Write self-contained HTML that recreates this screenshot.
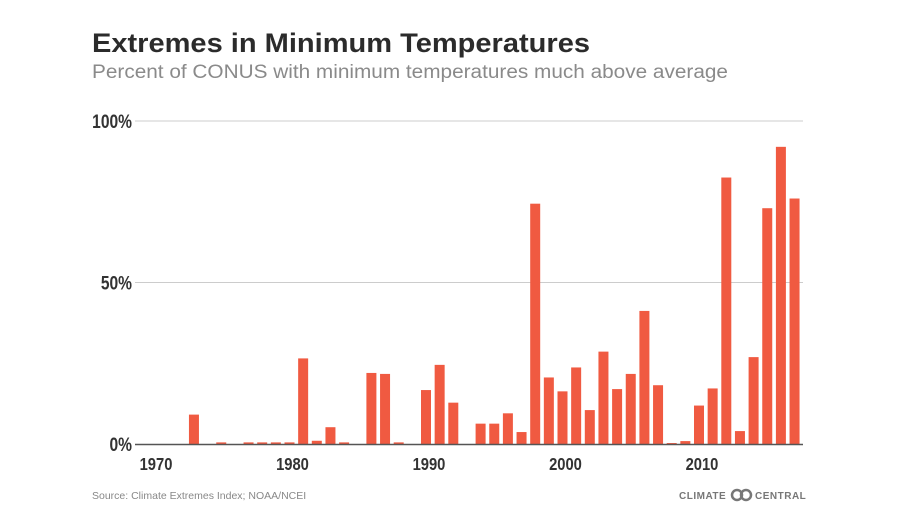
<!DOCTYPE html>
<html><head><meta charset="utf-8"><style>
body{margin:0;background:#fff;width:900px;height:525px;overflow:hidden;font-family:"Liberation Sans",sans-serif}
svg{display:block}
</style></head><body>
<svg width="900" height="525">
<text x="92" y="52" font-size="27" font-weight="bold" fill="#2b2b2b" textLength="498" lengthAdjust="spacingAndGlyphs">Extremes in Minimum Temperatures</text>
<text x="92" y="78" font-size="19" fill="#8a8a8a" textLength="636" lengthAdjust="spacingAndGlyphs">Percent of CONUS with minimum temperatures much above average</text>
<g id="grid"></g><g id="bars"></g><g id="axis"></g>
<text x="92" y="499" font-size="10.5" fill="#888">Source: Climate Extremes Index; NOAA/NCEI</text>
<g>
<text x="679" y="499" font-size="10" font-weight="bold" fill="#777" letter-spacing="0.5">CLIMATE</text>
<circle cx="737" cy="495" r="5" fill="none" stroke="#777" stroke-width="2.5"/>
<circle cx="746" cy="495" r="5" fill="none" stroke="#777" stroke-width="2.5"/>
<text x="755" y="499" font-size="10" font-weight="bold" fill="#777" letter-spacing="0.5">CENTRAL</text>
</g>
</svg>
<script>
const years=[1970,1971,1972,1973,1974,1975,1976,1977,1978,1979,1980,1981,1982,1983,1984,1985,1986,1987,1988,1989,1990,1991,1992,1993,1994,1995,1996,1997,1998,1999,2000,2001,2002,2003,2004,2005,2006,2007,2008,2009,2010,2011,2012,2013,2014,2015,2016,2017];
const values=[0,0,0,9.1,0,0.5,0,0.5,0.5,0.5,0.5,26.5,1,5.2,0.5,0,22,21.7,0.5,0,16.7,24.5,12.8,0,6.3,6.3,9.5,3.7,74.4,20.6,16.3,23.7,10.5,28.6,17,21.7,41.2,18.2,0.3,0.9,11.9,17.2,82.5,4,26.9,73,92,76];
const yTicks=[0,50,100];
const xTicks=[1970,1980,1990,2000,2010];
const NS="http://www.w3.org/2000/svg";
const x=yr=>153+(yr-1970)*13.65;
const y=v=>444-v*3.23;
function mk(tag,attrs,parent,text){const e=document.createElementNS(NS,tag);for(const k in attrs)e.setAttribute(k,attrs[k]);if(text!=null)e.textContent=text;document.getElementById(parent).appendChild(e);return e;}
yTicks.forEach(t=>{
 if(t>0){const l=mk('line',{x1:135,x2:803,y1:y(t),y2:y(t),stroke:'#ccc','stroke-width':1},'grid');
 
 }
 const tx=mk('text',{x:132,y:y(t)+7,'font-size':19,'font-weight':'bold',fill:'#333','text-anchor':'end',transform:`translate(${132*0.18},0) scale(0.82,1)`},'grid',t+'%');
 
 
});
years.forEach((yr,i)=>{
 const v=values[i];
 const r=mk('rect',{x:x(yr)-5,y:y(v),width:10,height:444-y(v),fill:'#f05a41'},'bars');
 
 
});
const ax=mk('line',{x1:135,x2:803,y1:444.5,y2:444.5,stroke:'#555','stroke-width':1.5},'axis');


xTicks.forEach(t=>{
 const cx=x(t)+3;
 const tx=mk('text',{x:cx/0.82,y:470,'font-size':18,'font-weight':'bold',fill:'#333','text-anchor':'middle',transform:'scale(0.82,1)'},'axis',t);
 
 
});
</script>
</body></html>
